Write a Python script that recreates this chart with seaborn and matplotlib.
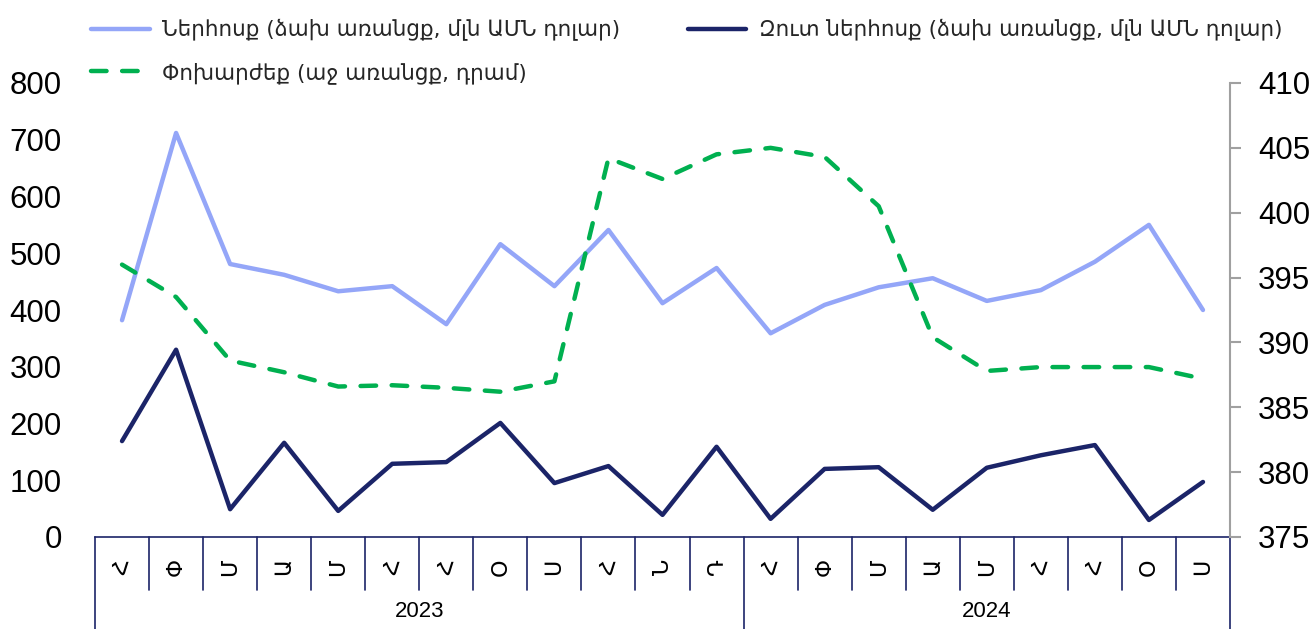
import numpy as np
import pandas as pd
import matplotlib
matplotlib.use("Agg")
import matplotlib.pyplot as plt
import matplotlib.transforms as mtransforms
import seaborn as sns

# data
months = ["Հ", "Փ", "Մ", "Ա", "Մ", "Հ", "Հ", "Օ", "Ս", "Հ", "Ն", "Դ",
          "Հ", "Փ", "Մ", "Ա", "Մ", "Հ", "Հ", "Օ", "Ս"]
years = ["2023", "2024"]
year_len = [12, 9]
inflow = [382, 712, 481, 462, 433, 442, 375, 516, 442, 541, 412, 474,
          359, 409, 440, 456, 416, 435, 485, 550, 400]
net_inflow = [169, 330, 49, 166, 46, 129, 132, 201, 95, 125, 39, 159,
              32, 120, 123, 48, 122, 144, 162, 30, 97]
exch_rate = [396.0, 393.5, 388.6, 387.7, 386.6, 386.7, 386.5, 386.2, 387.0, 404.2, 402.6, 404.5,
             405.0, 404.3, 400.5, 390.4, 387.8, 388.1, 388.1, 388.1, 387.2]

lbl_in = "Ներհոսք (ձախ առանցք, մլն ԱՄՆ դոլար)"
lbl_net = "Զուտ ներհոսք (ձախ առանցք, մլն ԱՄՆ դոլար)"
lbl_fx = "Փոխարժեք (աջ առանցք, դրամ)"

df = pd.DataFrame({"pos": np.arange(len(months)), "inflow": inflow,
                   "net": net_inflow, "fx": exch_rate})

sns.set_style("white")
plt.rcParams['font.family'] = ['DejaVu Sans']

c_light = "#94a6f8"
c_navy = "#1b2468"
c_green = "#00b050"

fig = plt.figure(figsize=(13.09, 6.29), dpi=100)
ax = fig.add_axes([95/1309, 1-537/629, (1230-95)/1309, (537-83)/629])
ax2 = ax.twinx()

sns.lineplot(data=df, x="pos", y="inflow", ax=ax, color=c_light, lw=3.2,
             solid_capstyle="round", label=lbl_in, legend=False)
sns.lineplot(data=df, x="pos", y="net", ax=ax, color=c_navy, lw=3.2,
             solid_capstyle="round", label=lbl_net, legend=False)
sns.lineplot(data=df, x="pos", y="fx", ax=ax2, color=c_green, lw=3.2,
             dashes=(3.5, 3.5), dash_capstyle="round", label=lbl_fx, legend=False)

ax.set_xlim(-0.5, len(months) - 0.5)
ax.set_ylim(0, 800)
ax2.set_ylim(375, 410)
ax.set_yticks(range(0, 801, 100))
ax2.set_yticks(range(375, 411, 5))
ax.set_xticks([])
ax.set_xlabel("")
ax.set_ylabel("")
ax2.set_ylabel("")

for a in (ax, ax2):
    for s in ("top", "left", "right", "bottom"):
        a.spines[s].set_visible(False)
ax.spines["bottom"].set_visible(True)
ax.spines["bottom"].set_color(c_navy)
ax.spines["bottom"].set_linewidth(1.2)
ax2.spines["right"].set_visible(True)
ax2.spines["right"].set_color("#a0a0a0")
ax2.spines["right"].set_linewidth(1.5)

ax.tick_params(axis="y", length=0, pad=24, labelsize=22.5, labelcolor="black")
ax2.tick_params(axis="y", length=8, width=1.5, color="#a0a0a0", pad=12,
                labelsize=22.5, labelcolor="black", direction="out")
for t in ax.get_yticklabels() + ax2.get_yticklabels():
    t.set_fontfamily("Liberation Sans")

# category axis: separators, month letters, year labels
trans = mtransforms.blended_transform_factory(ax.transData, ax.transAxes)
bounds = [0] + list(np.cumsum(year_len))
for k in range(len(months) + 1):
    x = k - 0.5
    long = k in bounds
    ax.plot([x, x], [0, -92/454 if long else -53/454], color=c_navy, lw=1.2,
            transform=trans, clip_on=False)
for i, m in enumerate(months):
    ax.text(i, -0.066, m, transform=trans, rotation=90, ha="center", va="center",
            fontsize=16, color="black")
for j, y in enumerate(years):
    mid = (bounds[j] + bounds[j + 1] - 1) / 2
    ax.text(mid, -0.163, y, transform=trans, ha="center", va="center",
            fontsize=16, family="Liberation Sans", color="black")

# legend
handles = [ax.lines[0], ax2.lines[0], ax.lines[1]]
labels = [lbl_in, lbl_fx, lbl_net]
fig.legend(handles, labels, ncol=2, loc="upper left", bbox_to_anchor=(72/1309, 1.0),
           frameon=False, fontsize=15.5, handlelength=2.7, handletextpad=0.6,
           columnspacing=3.15, labelspacing=0.95)

fig.savefig("out.png", dpi=100)
